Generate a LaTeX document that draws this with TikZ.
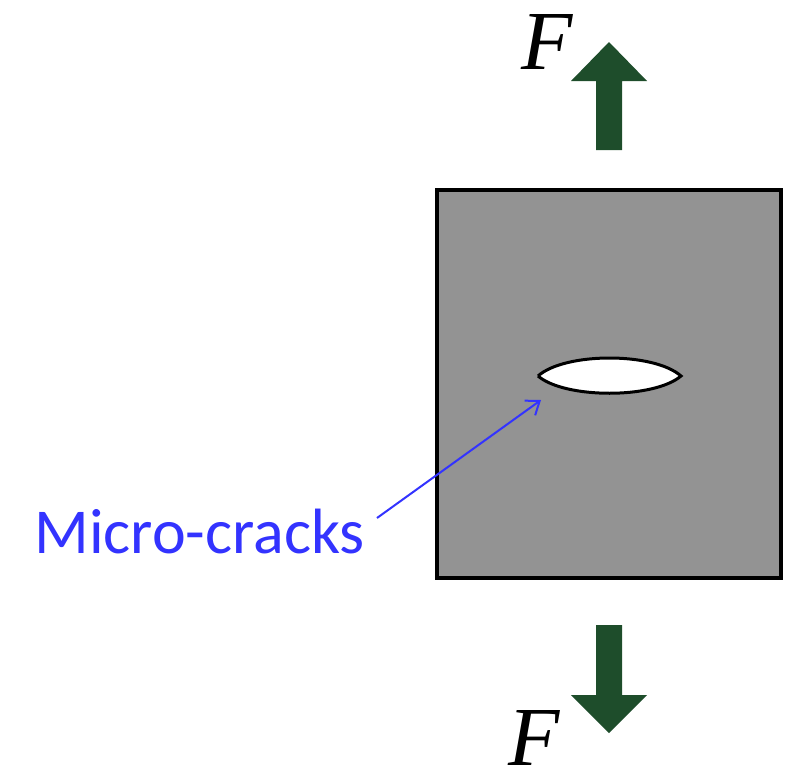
\documentclass[tikz,border=0pt]{standalone}
\usepackage{fontspec}
\usepackage{tikz}
\usetikzlibrary{arrows.meta,positioning,calc}
\newfontfamily\labelfont{Carlito}
\newfontfamily\forcefont{Liberation Serif}
\definecolor{SpecGray}{HTML}{939393}
\definecolor{ForceGreen}{HTML}{1E4D2B}
\definecolor{NoteBlue}{HTML}{3333FF}

\begin{document}
\begin{tikzpicture}[x=0.5pt, y=-0.5pt,
  specimen/.style={draw=black, line width=2pt, fill=SpecGray, minimum width=172pt, minimum height=194pt, inner sep=0pt},
  forcearrow/.style={fill=ForceGreen, draw=none},
  forcelabel/.style={inner sep=0pt, anchor=base west, font=\forcefont\itshape\fontsize{42}{42}\selectfont},
  note/.style={inner sep=0pt, anchor=base west, text=NoteBlue, font=\labelfont\fontsize{32}{32}\selectfont}]
\useasboundingbox (0,0) rectangle (788,777);
% specimen block
\node[specimen] (block) at (609,384) {};
% crack
\draw[line width=1.5pt, fill=white] (538,376) .. controls (565,352) and (654,352) .. (681,376)
  .. controls (654,399) and (565,399) .. (538,376);
\coordinate (cracktip) at (541,400);
% forces
\fill[forcearrow] (596,150) -- (596,81) -- (571,81) -- (609,42) -- (647,81) -- (622,81) -- (622,150) -- cycle;
\fill[forcearrow] (596,625) -- (596,695) -- (571,695) -- (609,733) -- (647,695) -- (622,695) -- (622,625) -- cycle;
\node[forcelabel] (ftop) at (521,69) {F};
\node[forcelabel] (fbot) at (508,765) {F};
% label
\node[note] (cracks) at (34,553) {Micro-cracks};
\coordinate (notestart) at (377,518);
\draw[NoteBlue, line width=1pt, -{Straight Barb[length=6pt, width=9pt]}] (notestart) -- (cracktip);
\end{tikzpicture}
\end{document}
